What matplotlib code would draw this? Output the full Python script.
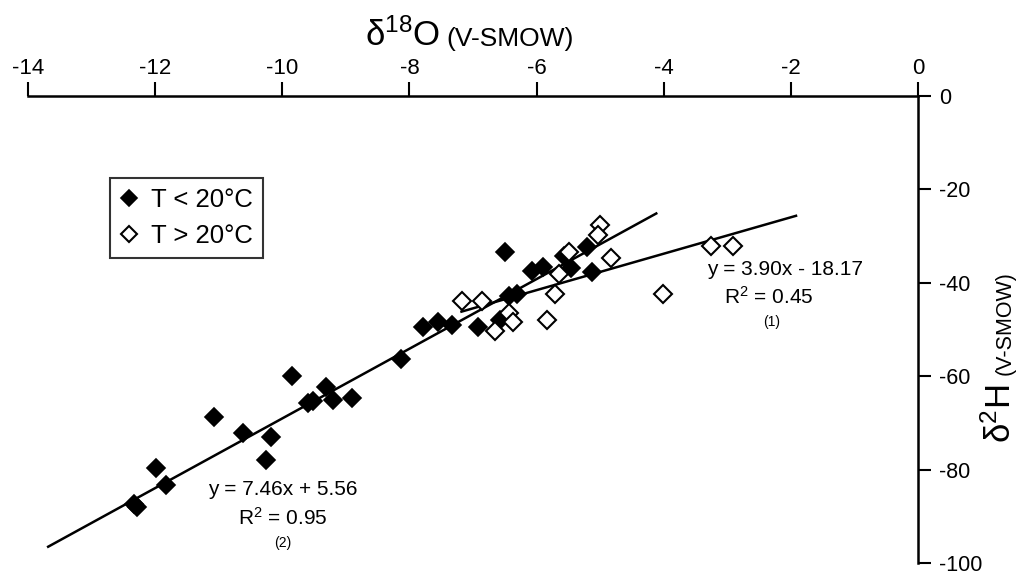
import matplotlib
matplotlib.use("Agg")
import matplotlib.pyplot as plt
import numpy as np

plt.rcParams['font.family'] = ['Liberation Sans', 'DejaVu Sans']
plt.rcParams['mathtext.fontset'] = 'custom'
plt.rcParams['mathtext.rm'] = 'Liberation Sans'
plt.rcParams['mathtext.it'] = 'Liberation Sans:italic'
plt.rcParams['mathtext.bf'] = 'Liberation Sans:bold'

# T < 20°C (filled)
cold_d18O = [-12.33, -12.29, -11.99, -11.83, -11.07, -10.62, -10.18, -10.26, -9.85, -9.60,
             -9.52, -9.31, -9.20, -8.90, -8.13, -7.79, -7.55, -7.33, -6.92, -6.58,
             -6.50, -6.43, -6.31, -6.07, -5.90, -5.57, -5.46, -5.21, -5.13]
cold_d2H = [-87.4, -88.1, -79.6, -83.2, -68.7, -72.1, -73.0, -77.9, -60.0, -65.7,
            -65.3, -62.3, -65.1, -64.7, -56.4, -49.4, -48.3, -49.1, -49.4, -47.9,
            -33.4, -42.8, -42.3, -37.4, -36.6, -34.3, -36.8, -32.3, -37.7]

# T > 20°C (open)
warm_d18O = [-7.17, -6.86, -6.43, -6.37, -6.65, -5.84, -5.71, -5.65, -5.49, -5.00,
             -5.03, -4.83, -4.01, -3.26, -2.91]
warm_d2H = [-43.8, -43.8, -46.4, -48.3, -50.4, -47.9, -42.3, -38.1, -33.4, -27.7,
            -29.8, -34.7, -42.3, -32.1, -32.1]

# regression lines
fit2_slope, fit2_icpt, fit2_range = 7.46, 5.56, (-13.7, -4.1)
fit1_slope, fit1_icpt, fit1_range = 3.90, -18.17, (-7.2, -1.9)

x_ticks = [-14, -12, -10, -8, -6, -4, -2, 0]
y_ticks = [0, -20, -40, -60, -80, -100]

W, H = 1029, 576
fig = plt.figure(figsize=(W / 100, H / 100), dpi=100)
ax = fig.add_axes([28 / W, 13 / H, 890 / W, 467 / H])

for (s, b, (x0, x1)) in [(fit2_slope, fit2_icpt, fit2_range), (fit1_slope, fit1_icpt, fit1_range)]:
    xs = np.array([x0, x1])
    ax.plot(xs, s * xs + b, color='black', lw=1.8, zorder=2, solid_capstyle='butt')

ax.plot(cold_d18O, cold_d2H, linestyle='none', marker='D', markersize=9.5,
        markerfacecolor='black', markeredgecolor='black', markeredgewidth=1.2,
        zorder=3, label='T < 20°C')
ax.plot(warm_d18O, warm_d2H, linestyle='none', marker='D', markersize=9.3,
        markerfacecolor='white', markeredgecolor='black', markeredgewidth=1.5,
        zorder=3, label='T > 20°C')

ax.set_xlim(-14, 0)
ax.set_ylim(-100, 0)
ax.spines['bottom'].set_visible(False)
ax.spines['left'].set_visible(False)
for sp in ('top', 'right'):
    ax.spines[sp].set_linewidth(1.8)
ax.xaxis.set_ticks_position('top')
ax.yaxis.set_ticks_position('right')
ax.set_xticks(x_ticks)
ax.set_yticks(y_ticks)
ax.set_xticklabels([str(t) for t in x_ticks])
ax.set_yticklabels([str(t) for t in y_ticks])
ax.tick_params(axis='x', direction='out', length=10, width=1.5, pad=2, labelsize=16)
ax.tick_params(axis='y', direction='out', length=9, width=1.5, pad=6, labelsize=15.5)

leg = ax.legend(loc='upper left', bbox_to_anchor=(0.092, 0.824), borderaxespad=0,
                fontsize=18.5, frameon=True, fancybox=False, edgecolor='black',
                markerscale=0.85, handlelength=0.7, handletextpad=0.5,
                borderpad=0.4, labelspacing=0.45)
leg.get_frame().set_linewidth(1.5)

# equation annotations
ax.text(-10.0, -84.3, 'y = 7.46x + 5.56', ha='center', va='center', fontsize=15)
ax.text(-10.0, -90.4, 'R$^2$ = 0.95', ha='center', va='center', fontsize=15)
ax.text(-10.0, -95.7, '(2)', ha='center', va='center', fontsize=10)
ax.text(-2.09, -37.2, 'y = 3.90x - 18.17', ha='center', va='center', fontsize=15)
ax.text(-2.34, -43.0, 'R$^2$ = 0.45', ha='center', va='center', fontsize=15)
ax.text(-2.31, -48.3, '(1)', ha='center', va='center', fontsize=10)

# axis titles
fig.text(440 / W, 1 - 46 / H, r'δ$^{18}$O', ha='right', va='baseline', fontsize=25)
fig.text(446 / W, 1 - 46 / H, '(V-SMOW)', ha='left', va='baseline', fontsize=19)
fig.text(1001 / W, 1 - 443 / H, r'δ$^2$H', ha='center', va='bottom', rotation=90, fontsize=25)
fig.text(1005 / W, 1 - 375 / H, '(V-SMOW)', ha='center', va='bottom', rotation=90, fontsize=15.5)

fig.savefig('out.png', dpi=100)
